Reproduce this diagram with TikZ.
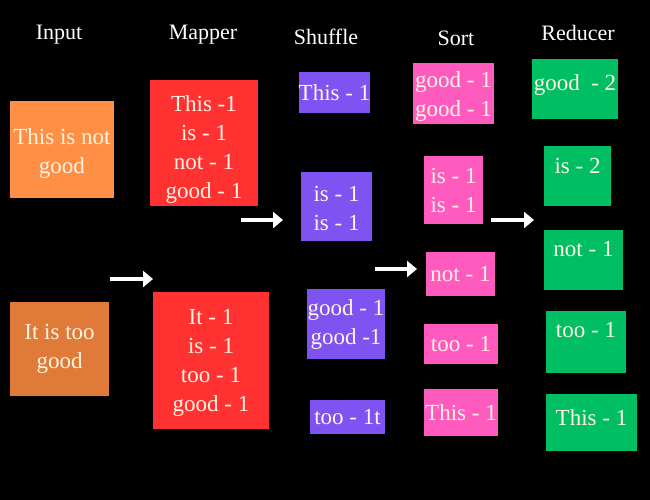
\documentclass[tikz,border=0pt]{standalone}
\usepackage{fontspec}
\setmainfont{Liberation Serif}
\usetikzlibrary{arrows.meta, positioning}

\definecolor{inA}{HTML}{FF8F45}
\definecolor{inB}{HTML}{E07A38}
\definecolor{mapred}{HTML}{FF3131}
\definecolor{shpurple}{HTML}{7F52F2}
\definecolor{sortpink}{HTML}{FF5BBE}
\definecolor{redgreen}{HTML}{00BF63}
\definecolor{cream}{HTML}{FFF4E4}

\begin{document}
\begin{tikzpicture}[
  x=1pt, y=-1pt,
  cell/.style={
    inner sep=0pt,
    align=center,
    text=cream,
    font=\fontsize{23}{29}\selectfont
  },
  wh/.style 2 args={minimum width=#1, minimum height=#2},
  head/.style={text=white, font=\fontsize{22}{29}\selectfont},
  redcell/.style={cell, fill=redgreen, align=none, text height=15pt},
  arr/.style={-{Triangle[length=10pt,width=16pt]}, line width=4.5pt, white}
]

\fill[black] (0,0) rectangle (650,500);
\useasboundingbox (0,0) rectangle (650,500);

% Headings
\node[head] (hin) at (59,35) {Input};
\node[head] (hmap) at (203,35) {Mapper};
\node[head] (hsh) at (326,37) {Shuffle};
\node[head] (hsort) at (456,38) {Sort};
\node[head] (hred) at (578,33) {Reducer};

% Input
\node[cell, fill=inA, wh={104}{97}] (in1) at (62,149.5) {\rule{0pt}{24pt}This is not\\good};
\node[cell, fill=inB, wh={99}{94}] (in2) at (59.5,349) {It is too\\good};

% Mapper
\node[cell, fill=mapred, wh={108}{126}] (map1) at (204,143) {\rule{0pt}{28pt}This -1\\is - 1\\not - 1\\good - 1};
\node[cell, fill=mapred, wh={116}{137}] (map2) at (211,360.5) {\rule{0pt}{20pt}It - 1\\is - 1\\too - 1\\good - 1};

% Shuffle
\node[cell, fill=shpurple, wh={71}{41}] (sh1) at (334.5,92.5) {This - 1};
\node[cell, fill=shpurple, wh={71}{69}] (sh2) at (336.5,206.5) {\rule{0pt}{20pt}is - 1\\is - 1};
\node[cell, fill=shpurple, wh={78}{70}] (sh3) at (346,324) {good - 1\\good -1};
\node[cell, fill=shpurple, wh={75}{34}] (sh4) at (347.5,417) {too - 1t};

% Sort
\node[cell, fill=sortpink, wh={81}{61}] (so1) at (453.5,93.5) {\rule{0pt}{22pt}good - 1\\good - 1};
\node[cell, fill=sortpink, wh={59}{68}] (so2) at (453.5,190) {is - 1\\is - 1};
\node[cell, fill=sortpink, wh={69}{44}] (so3) at (460.5,274) {not - 1};
\node[cell, fill=sortpink, wh={74}{40}] (so4) at (461,344) {too - 1};
\node[cell, fill=sortpink, wh={74}{47}] (so5) at (461,412.5) {This - 1};

% Reducer
\node[redcell, wh={86}{60}, text depth=11pt] (re1) at (575,89) {good~~- 2};
\node[redcell, wh={67}{60}, text depth=21pt] (re2) at (577.5,176) {is - 2};
\node[redcell, wh={79}{60}, text depth=23pt] (re3) at (583.5,260) {not - 1};
\node[redcell, wh={80}{62}, text depth=25pt] (re4) at (586,342) {too - 1};
\node[redcell, wh={91}{57}, text depth=9pt] (re5) at (591.5,422.5) {This - 1};

% Arrows
\coordinate (a1s) at (110,279);
\coordinate (a1e) at (153,279);
\coordinate (a2s) at (241,220);
\coordinate (a2e) at (283,220);
\coordinate (a3s) at (375,269);
\coordinate (a3e) at (417,269);
\coordinate (a4s) at (491,220);
\coordinate (a4e) at (534,220);

\draw[arr] (a1s) -- (a1e);
\draw[arr] (a2s) -- (a2e);
\draw[arr] (a3s) -- (a3e);
\draw[arr] (a4s) -- (a4e);

\end{tikzpicture}
\end{document}
